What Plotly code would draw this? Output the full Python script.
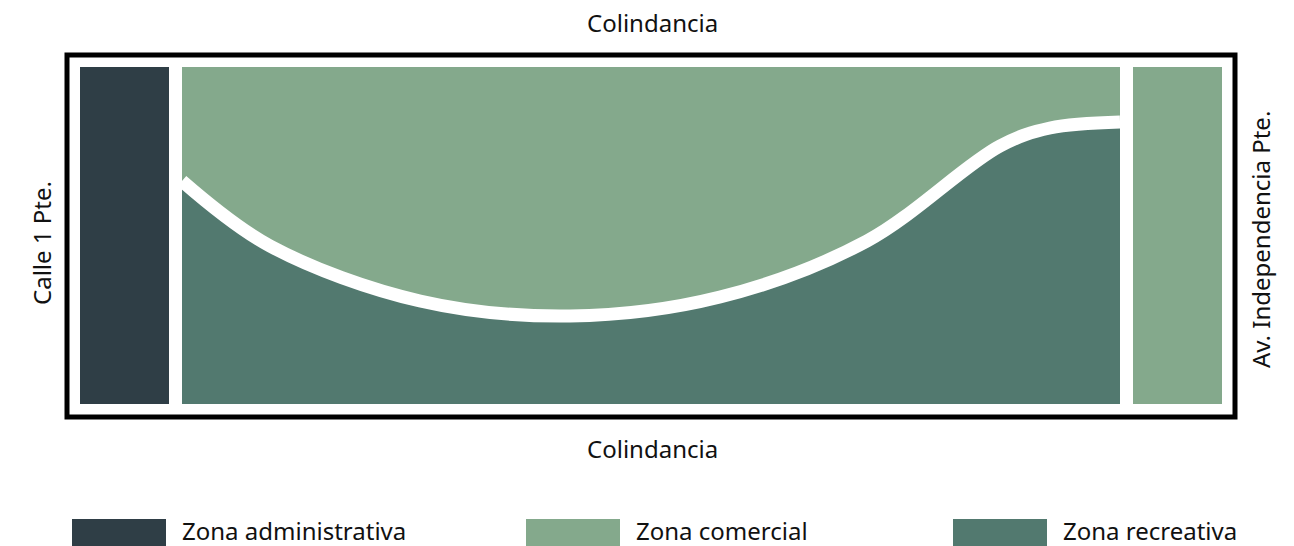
import plotly.graph_objects as go

# ---------------- data ----------------
zone_names = ["Zona administrativa", "Zona comercial", "Zona recreativa"]
zone_colors = ["#2F3E46", "#84A98C", "#52796F"]

# rectangular blocks of the plan (x0, x1, y0, y1) in plan units
block_x0 = [80, 182, 1133]
block_x1 = [169, 1120, 1222]
block_y0 = [67, 67, 67]
block_y1 = [404, 404, 404]
block_zone = [0, 1, 1]

# boundary between commercial (above) and recreational (below) zones
curve_x = [182, 270, 420, 570, 720, 867, 1000, 1050, 1120]
curve_y = [181, 246, 301, 316, 297, 241, 146, 128, 122]
recreation_floor = 404

# lot outline
lot_x = [67, 1235]
lot_y = [55, 417]

side_labels = ["Colindancia", "Colindancia", "Calle 1 Pte.", "Av. Independencia Pte."]

FONT = "Noto Sans, Source Sans Pro, Open Sans, sans-serif"

fig = go.Figure()

# blocks
shapes = []
for x0, x1, y0, y1, z in zip(block_x0, block_x1, block_y0, block_y1, block_zone):
    shapes.append(dict(type="rect", xref="x", yref="y", x0=x0, x1=x1, y0=y0, y1=y1,
                       fillcolor=zone_colors[z], line=dict(width=0), layer="below"))

# lot outline
shapes.append(dict(type="rect", xref="x", yref="y", x0=lot_x[0], x1=lot_x[1],
                   y0=lot_y[0], y1=lot_y[1], line=dict(color="#000000", width=5),
                   fillcolor="rgba(0,0,0,0)", layer="above"))

# recreational zone: fill between floor and curve
fig.add_trace(go.Scatter(x=[curve_x[0], curve_x[-1]], y=[recreation_floor, recreation_floor],
                         mode="lines", line=dict(width=0, color=zone_colors[2]),
                         hoverinfo="skip", showlegend=False))
fig.add_trace(go.Scatter(x=curve_x, y=curve_y, mode="lines",
                         line=dict(color="white", width=13, shape="spline", smoothing=1.0),
                         fill="tonexty", fillcolor=zone_colors[2],
                         hoverinfo="skip", showlegend=False))

# legend (custom swatches)
legend_swatch_x0 = [72, 526, 953]
swatch_w = 94
annotations = []
for i, name in enumerate(zone_names):
    sx = legend_swatch_x0[i]
    shapes.append(dict(type="rect", xref="x", yref="y", x0=sx, x1=sx + swatch_w,
                       y0=519, y1=560, fillcolor=zone_colors[i], line=dict(width=0)))
    annotations.append(dict(x=sx + swatch_w + 14, y=530, xref="x", yref="y",
                            text=name, showarrow=False, xanchor="left", yanchor="middle",
                            font=dict(family=FONT, size=24, color="#111111")))

# side labels
annotations.append(dict(x=652, y=22, xref="x", yref="y", text=side_labels[0], showarrow=False,
                        xanchor="center", yanchor="middle",
                        font=dict(family=FONT, size=24, color="#111111")))
annotations.append(dict(x=652, y=448, xref="x", yref="y", text=side_labels[1], showarrow=False,
                        xanchor="center", yanchor="middle",
                        font=dict(family=FONT, size=24, color="#111111")))
annotations.append(dict(x=41, y=243, xref="x", yref="y", text=side_labels[2], showarrow=False,
                        textangle=-90, xanchor="center", yanchor="middle",
                        font=dict(family=FONT, size=24, color="#111111")))
annotations.append(dict(x=1260, y=240, xref="x", yref="y", text=side_labels[3], showarrow=False,
                        textangle=-90, xanchor="center", yanchor="middle",
                        font=dict(family=FONT, size=24, color="#111111")))

W, H = 1294, 546
fig.update_layout(
    width=W, height=H,
    margin=dict(l=0, r=0, t=0, b=0),
    paper_bgcolor="white", plot_bgcolor="white",
    xaxis=dict(range=[0, W], visible=False, fixedrange=True),
    yaxis=dict(range=[H, 0], visible=False, fixedrange=True),
    shapes=shapes, annotations=annotations,
    showlegend=False,
)

fig.write_html("out.html", config={"displayModeBar": False},
               post_script="document.body.style.margin='0';document.body.style.overflow='hidden';")
